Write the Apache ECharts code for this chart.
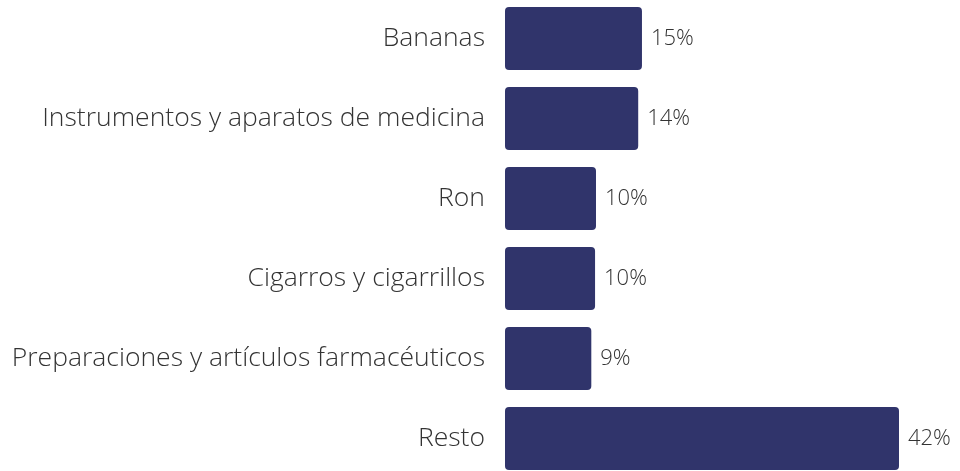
<!DOCTYPE html>
<html>
<head>
<meta charset="utf-8">
<script src="https://cdn.jsdelivr.net/npm/echarts@6/dist/echarts.min.js"></script>
<style>
  html, body { margin: 0; padding: 0; background: #fff; }
  #main { width: 960px; height: 471px; }
</style>
</head>
<body>
<div id="main"></div>
<script>
// categorías y participación (%)
var categories = ['Bananas', 'Instrumentos y aparatos de medicina', 'Ron', 'Cigarros y cigarrillos', 'Preparaciones y artículos farmacéuticos', 'Resto'];
var shares = [14.6, 14.2, 9.7, 9.6, 9.2, 42.0];

var chart = echarts.init(document.getElementById('main'));

var option = {
  animation: false,
  textStyle: { fontFamily: 'Open Sans' },
  grid: { left: 505, width: 394, top: -1.5, height: 480, outerBoundsMode: 'none' },
  xAxis: {
    type: 'value',
    min: 0,
    max: 42,
    show: false
  },
  yAxis: {
    type: 'category',
    inverse: true,
    data: categories,
    axisLine: { show: false },
    axisTick: { show: false },
    axisLabel: {
      margin: 20,
      fontSize: 26.5,
      fontWeight: 300,
      color: '#333333',
      fontFamily: 'Open Sans'
    }
  },
  series: [
    {
      type: 'bar',
      data: shares,
      barWidth: 63,
      itemStyle: { color: '#30346b', borderRadius: 4 },
      label: {
        show: true,
        position: 'right',
        distance: 9,
        fontSize: 22,
        fontWeight: 300,
        color: '#333333',
        fontFamily: 'Open Sans',
        formatter: function (p) { return Math.round(p.value) + '%'; }
      }
    }
  ]
};

chart.setOption(option);
</script>
</body>
</html>
